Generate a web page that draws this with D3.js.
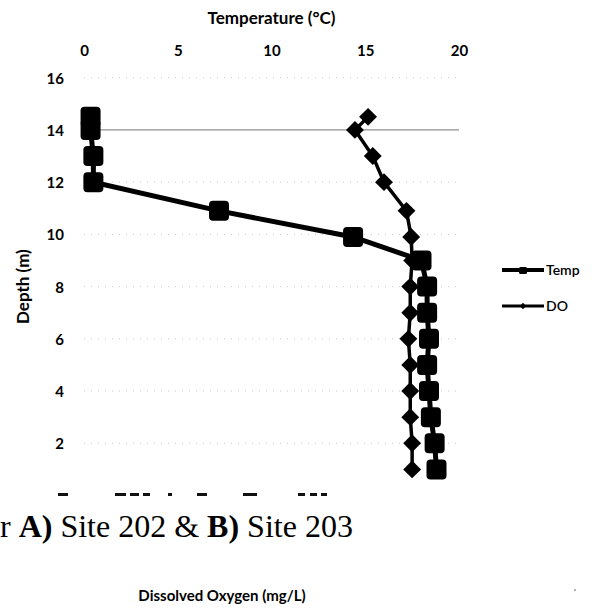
<!DOCTYPE html>
<html>
<head>
<meta charset="utf-8">
<script src="https://cdn.jsdelivr.net/npm/d3@7"></script>
<style>
  body { margin: 0; background: #fff; }
  svg { display: block; }
  .tick text { font-family: Lato, "Open Sans", sans-serif; font-weight: bold; font-size: 15px; fill: #000; }
</style>
</head>
<body>
<svg width="595" height="611"></svg>
<script>
// depth of each reading (m), shared by both profiles
const depths = [14.5, 14, 13, 12, 10.9, 9.9, 9, 8, 7, 6, 5, 4, 3, 2, 1];
const tempValues = [0.35, 0.35, 0.5, 0.5, 7.2, 14.35, 18.0, 18.3, 18.3, 18.4, 18.3, 18.4, 18.5, 18.7, 18.8];
const doValues = [15.15, 14.45, 15.4, 16.0, 17.2, 17.45, 17.5, 17.4, 17.4, 17.3, 17.4, 17.4, 17.4, 17.5, 17.5];
const xTicks = [0, 5, 10, 15, 20];
const yTicks = [2, 4, 6, 8, 10, 12, 14, 16];
const seriesNames = ['Temp', 'DO'];
// cut-off bits of the caption line above, [x0, x1]
const scanBits = [[58, 68], [115, 126], [130, 139], [143, 150], [168, 172], [197, 207], [243, 257], [298, 305], [310, 317], [321, 327]];

const svg = d3.select('svg');

const x = d3.scaleLinear().domain([0, 20]).range([84, 459]);
const y = d3.scaleLinear().domain([0, 16]).range([495.5, 77.7]);

// gridlines, faded by the scan except the 14 m one
svg.append('g')
  .selectAll('line')
  .data(yTicks)
  .enter()
  .append('line')
  .attr('x1', x(0))
  .attr('x2', x(20))
  .attr('y1', d => y(d))
  .attr('y2', d => y(d))
  .attr('stroke', d => d === 14 ? '#777' : '#c8c8c8')
  .attr('stroke-width', 1)
  .attr('stroke-dasharray', d => d === 14 ? null : '1 6');

// top temperature axis
svg.append('g')
  .attr('transform', `translate(0, ${y(16)})`)
  .call(d3.axisTop(x).tickValues(xTicks).tickSize(0).tickPadding(22))
  .call(g => g.select('.domain').remove());

// depth axis
svg.append('g')
  .attr('transform', `translate(${x(0)}, 0)`)
  .call(d3.axisLeft(y).tickValues(yTicks).tickSize(0).tickPadding(20))
  .call(g => g.select('.domain').remove())
  .selectAll('text').attr('dy', '0.36em');

svg.append('text')
  .attr('x', (x(0) + x(20)) / 2)
  .attr('y', 24)
  .attr('text-anchor', 'middle')
  .style('font-family', 'Lato, sans-serif')
  .style('font-weight', 'bold')
  .style('font-size', '17px')
  .text('Temperature (°C)');

svg.append('text')
  .attr('transform', `translate(29, ${(y(16) + y(0)) / 2}) rotate(-90)`)
  .attr('text-anchor', 'middle')
  .style('font-family', 'Lato, sans-serif')
  .style('font-weight', 'bold')
  .style('font-size', '17px')
  .text('Depth (m)');

const line = d3.line()
  .x(d => x(d.v))
  .y(d => y(d.depth));

const tempData = depths.map((depth, i) => ({ depth, v: tempValues[i] }));
const doData = depths.map((depth, i) => ({ depth, v: doValues[i] }));

svg.append('path')
  .datum(tempData)
  .attr('fill', 'none')
  .attr('stroke', '#000')
  .attr('stroke-width', 5)
  .attr('d', line);

svg.append('g')
  .selectAll('rect')
  .data(tempData)
  .enter()
  .append('rect')
  .attr('x', d => x(d.v) - 10)
  .attr('y', d => y(d.depth) - 10)
  .attr('width', 20)
  .attr('height', 20)
  .attr('rx', 4)
  .attr('fill', '#000');

svg.append('path')
  .datum(doData)
  .attr('fill', 'none')
  .attr('stroke', '#000')
  .attr('stroke-width', 3.5)
  .attr('d', line);

const diamond = d3.symbol().type(d3.symbolSquare).size(160);
svg.append('g')
  .selectAll('path')
  .data(doData)
  .enter()
  .append('path')
  .attr('d', diamond)
  .attr('transform', d => `translate(${x(d.v)}, ${y(d.depth)}) rotate(45)`)
  .attr('fill', '#000');

// legend
const legend = svg.append('g')
  .selectAll('g')
  .data(seriesNames)
  .enter()
  .append('g')
  .attr('transform', (d, i) => `translate(502, ${270 + i * 36})`);

legend.append('line')
  .attr('x1', 0).attr('x2', 42)
  .attr('stroke', '#000')
  .attr('stroke-width', (d, i) => i === 0 ? 4 : 3);

legend.filter((d, i) => i === 0).append('rect')
  .attr('x', 17).attr('y', -3).attr('width', 8).attr('height', 7)
  .attr('rx', 1.5).attr('fill', '#000');

legend.filter((d, i) => i === 1).append('path')
  .attr('d', d3.symbol().type(d3.symbolSquare).size(20))
  .attr('transform', 'translate(21, 0) rotate(45)')
  .attr('fill', '#000');

legend.append('text')
  .attr('x', 44)
  .attr('dy', '0.35em')
  .style('font-family', 'Lato, sans-serif')
  .style('font-size', '14px')
  .style('font-weight', 600)
  .text(d => d);

// remnants of the surrounding page
svg.append('g')
  .selectAll('rect')
  .data(scanBits)
  .enter()
  .append('rect')
  .attr('x', d => d[0])
  .attr('y', 493)
  .attr('width', d => d[1] - d[0])
  .attr('height', 3)
  .attr('fill', '#111');

svg.append('text')
  .attr('x', 0)
  .attr('y', 537)
  .style('font-family', '"Liberation Serif", "Times New Roman", serif')
  .style('font-size', '32px')
  .html('r <tspan font-weight="bold">A)</tspan> Site 202 &amp; <tspan font-weight="bold">B)</tspan> Site 203');

svg.append('text')
  .attr('x', 222)
  .attr('y', 601)
  .attr('text-anchor', 'middle')
  .style('font-family', 'Lato, sans-serif')
  .style('font-weight', 'bold')
  .style('font-size', '15px')
  .text('Dissolved Oxygen (mg/L)');

svg.append('circle')
  .attr('cx', 575).attr('cy', 590).attr('r', 1)
  .attr('fill', '#999');
</script>
</body>
</html>
